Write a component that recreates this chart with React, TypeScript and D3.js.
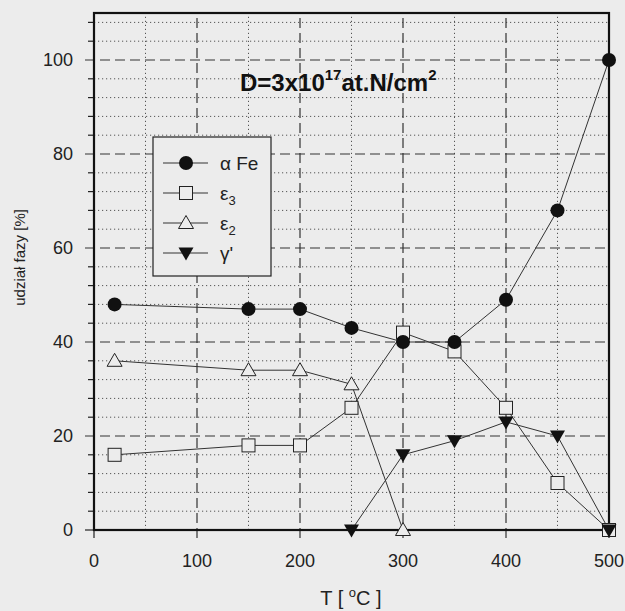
import React from "react";
import * as d3 from "d3";

const temps = [20, 150, 200, 250, 300, 350, 400, 450, 500];
const alphaFe = [48, 47, 47, 43, 40, 40, 49, 68, 100];
const eps3 = [16, 18, 18, 26, 42, 38, 26, 10, 0];
const eps2Temps = [20, 150, 200, 250, 300];
const eps2 = [36, 34, 34, 31, 0];
const gammaTemps = [250, 300, 350, 400, 450, 500];
const gamma = [0, 16, 19, 23, 20, 0];
const xTicks = [0, 100, 200, 300, 400, 500];
const yTicks = [0, 20, 40, 60, 80, 100];

const W = 625, H = 611;
const BG = "#ececec";
const FONT = "'Liberation Sans', Arial, sans-serif";

export default function App() {
  const x = d3.scaleLinear().domain([0, 500]).range([94, 609]);
  const y = d3.scaleLinear().domain([0, 110]).range([530, 13]);
  const line = (xs: number[], ys: number[]) =>
    d3.line<number>().x((_, i) => x(xs[i])).y((d) => y(d))(ys) || "";

  const minorX = d3.range(50, 500, 100);
  const minorY = d3.range(4, 110, 4).filter((v) => v % 20 !== 0);
  const majorYGrid = [20, 40, 60, 80, 100];
  const majorXGrid = [100, 200, 300, 400];

  const circle = (cx: number, cy: number, k: string) => (
    <circle key={k} cx={cx} cy={cy} r={7} fill="#111" />
  );
  const square = (cx: number, cy: number, k: string) => (
    <rect key={k} x={cx - 6.5} y={cy - 6.5} width={13} height={13} fill={BG} stroke="#222" strokeWidth={1} />
  );
  const triUp = (cx: number, cy: number, k: string) => (
    <path key={k} d={`M${cx},${cy - 7.5}L${cx + 7.5},${cy + 5.5}L${cx - 7.5},${cy + 5.5}Z`} fill={BG} stroke="#222" strokeWidth={1} />
  );
  const triDown = (cx: number, cy: number, k: string) => (
    <path key={k} d={`M${cx - 7.5},${cy - 5.5}L${cx + 7.5},${cy - 5.5}L${cx},${cy + 7.5}Z`} fill="#111" />
  );

  const legendRows = [
    { label: <tspan>α Fe</tspan>, m: circle },
    { label: <><tspan>ε</tspan><tspan dy={5} fontSize={13}>3</tspan></>, m: square },
    { label: <><tspan>ε</tspan><tspan dy={5} fontSize={13}>2</tspan></>, m: triUp },
    { label: <tspan>γ'</tspan>, m: triDown },
  ];

  return (
    <svg width={W} height={H} style={{ position: "absolute", left: 0, top: 0 }} fontFamily={FONT}>
      <rect width={W} height={H} fill={BG} />
      {/* minor grid */}
      {minorY.map((v) => (
        <line key={"my" + v} x1={x(0)} x2={x(500)} y1={y(v)} y2={y(v)} stroke="#555" strokeWidth={1} strokeDasharray="1.2,2.8" />
      ))}
      {minorX.map((v) => (
        <line key={"mx" + v} x1={x(v)} x2={x(v)} y1={y(0)} y2={y(110)} stroke="#555" strokeWidth={1} strokeDasharray="1.2,2.8" />
      ))}
      {/* major grid */}
      {majorYGrid.map((v) => (
        <line key={"My" + v} x1={x(0) - 9} x2={x(500)} y1={y(v)} y2={y(v)} stroke="#333" strokeWidth={1.2} strokeDasharray="10,5" />
      ))}
      {majorXGrid.map((v) => (
        <line key={"Mx" + v} x1={x(v)} x2={x(v)} y1={y(0) + 8} y2={y(110)} stroke="#333" strokeWidth={1.2} strokeDasharray="10,5" />
      ))}
      {/* y minor ticks */}
      {minorY.map((v) => (
        <line key={"ty" + v} x1={x(0) - 6} x2={x(0)} y1={y(v)} y2={y(v)} stroke="#222" strokeWidth={1.2} />
      ))}
      {[0, 500].map((v) => (
        <line key={"tx" + v} x1={x(v)} x2={x(v)} y1={y(0)} y2={y(0) + 8} stroke="#222" strokeWidth={1.2} />
      ))}
      <line x1={x(0) - 9} x2={x(0)} y1={y(0)} y2={y(0)} stroke="#222" strokeWidth={1.2} />
      {/* frame */}
      <rect x={x(0)} y={y(110)} width={x(500) - x(0)} height={y(0) - y(110)} fill="none" stroke="#111" strokeWidth={2.2} />
      {/* tick labels */}
      {yTicks.map((v) => (
        <text key={"ly" + v} x={x(0) - 21} y={y(v)} dy="0.36em" textAnchor="end" fontSize={18} fill="#222">{v}</text>
      ))}
      {xTicks.map((v) => (
        <text key={"lx" + v} x={x(v)} y={y(0) + 37} textAnchor="middle" fontSize={18} fill="#222">{v}</text>
      ))}
      {/* axis titles */}
      <text x={351} y={605} textAnchor="middle" fontSize={20} fill="#222">
        T [ <tspan dy={-8} fontSize={13}>o</tspan><tspan dy={8}>C ]</tspan>
      </text>
      <text transform={`translate(25,${y(58)}) rotate(-90)`} textAnchor="middle" fontSize={15} fill="#222">udział fazy [%]</text>
      {/* annotation */}
      <text x={240} y={91} fontSize={24} fontWeight="bold" fill="#111">
        D=3x10<tspan dy={-11} fontSize={15}>17</tspan><tspan dy={11}>at.N/cm</tspan><tspan dy={-11} fontSize={15}>2</tspan>
      </text>
      {/* series lines */}
      <g fill="none" stroke="#333" strokeWidth={1}>
        <path d={line(temps, alphaFe)} />
        <path d={line(temps, eps3)} />
        <path d={line(eps2Temps, eps2)} />
        <path d={line(gammaTemps, gamma)} />
      </g>
      {/* markers */}
      {eps2.map((v, i) => triUp(x(eps2Temps[i]), y(v), "e2" + i))}
      {eps3.map((v, i) => square(x(temps[i]), y(v), "e3" + i))}
      {alphaFe.map((v, i) => circle(x(temps[i]), y(v), "a" + i))}
      {gamma.map((v, i) => triDown(x(gammaTemps[i]), y(v), "g" + i))}
      {/* legend */}
      <rect x={153} y={137} width={118} height={139} fill={BG} stroke="#222" strokeWidth={1.2} />
      {legendRows.map((r, i) => {
        const cy = 163 + i * 30;
        return (
          <g key={"lg" + i}>
            <line x1={163} x2={208} y1={cy} y2={cy} stroke="#333" strokeWidth={1} />
            {r.m(186, cy, "lm" + i)}
            <text x={220} y={cy} dy="0.36em" fontSize={19} fill="#222">{r.label}</text>
          </g>
        );
      })}
    </svg>
  );
}
